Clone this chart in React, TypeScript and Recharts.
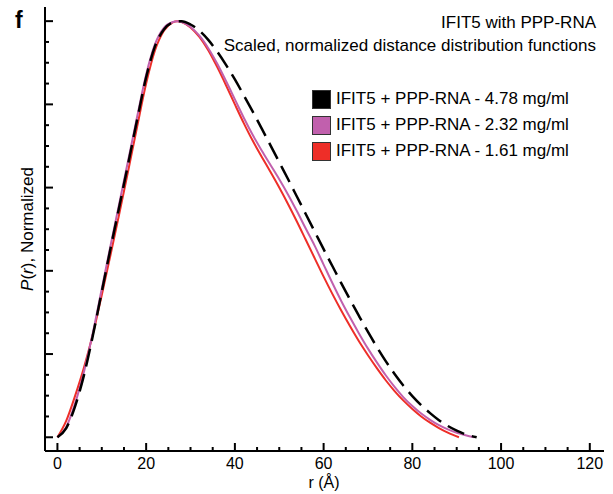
import React from 'react';
import { LineChart, Line, XAxis, YAxis, Legend } from 'recharts';

// r (Å) sampling for each concentration
const rHigh = [0, 2, 4, 6, 8, 10, 12, 14, 16, 18, 20, 22, 24, 26, 28, 30, 32, 34, 36, 38, 40, 42, 44, 46, 48, 50, 52, 54, 56, 58, 60, 62, 64, 66, 68, 70, 72, 74, 76, 78, 80, 82, 84, 86, 88, 90, 92, 94.5];
const pHigh = [0, 0.022, 0.075, 0.15, 0.245, 0.35, 0.455, 0.557, 0.66, 0.765, 0.865, 0.94, 0.98, 0.997, 1.0, 0.992, 0.977, 0.955, 0.927, 0.895, 0.86, 0.822, 0.783, 0.743, 0.702, 0.661, 0.62, 0.578, 0.536, 0.494, 0.452, 0.411, 0.37, 0.33, 0.291, 0.253, 0.217, 0.183, 0.152, 0.124, 0.099, 0.077, 0.058, 0.041, 0.027, 0.016, 0.007, 0];

const rMid = [0, 2, 4, 6, 8, 10, 12, 14, 16, 18, 20, 22, 24, 26, 27, 28, 30, 32, 34, 36, 38, 40, 42, 44, 46, 48, 50, 52, 54, 56, 58, 60, 62, 64, 66, 68, 70, 72, 74, 76, 78, 80, 82, 84, 86, 88, 90, 92, 94];
const pMid = [0, 0.025, 0.082, 0.158, 0.252, 0.357, 0.462, 0.565, 0.668, 0.772, 0.872, 0.945, 0.984, 0.998, 1.0, 0.998, 0.986, 0.965, 0.935, 0.898, 0.856, 0.812, 0.768, 0.727, 0.69, 0.655, 0.62, 0.583, 0.543, 0.501, 0.46, 0.415, 0.37, 0.327, 0.287, 0.249, 0.213, 0.18, 0.149, 0.121, 0.096, 0.075, 0.057, 0.042, 0.029, 0.019, 0.011, 0.005, 0];

const rLow = [0, 2, 4, 6, 8, 10, 12, 14, 16, 18, 20, 22, 24, 26, 27, 28, 30, 32, 34, 36, 38, 40, 42, 44, 46, 48, 50, 52, 54, 56, 58, 60, 62, 64, 66, 68, 70, 72, 74, 76, 78, 80, 82, 84, 86, 88, 90.5];
const pLow = [0, 0.04, 0.1, 0.168, 0.248, 0.342, 0.44, 0.54, 0.643, 0.748, 0.85, 0.93, 0.977, 0.997, 1.0, 0.998, 0.985, 0.962, 0.93, 0.89, 0.846, 0.8, 0.755, 0.713, 0.675, 0.638, 0.6, 0.56, 0.518, 0.474, 0.43, 0.386, 0.344, 0.304, 0.266, 0.23, 0.197, 0.166, 0.137, 0.111, 0.088, 0.068, 0.05, 0.035, 0.022, 0.011, 0];

const seriesNames = [
  'IFIT5 + PPP-RNA - 4.78 mg/ml',
  'IFIT5 + PPP-RNA - 2.32 mg/ml',
  'IFIT5 + PPP-RNA - 1.61 mg/ml',
];
const seriesColors = ['#000000', '#c160ad', '#ee2e28'];

const xTicks = Array.from({ length: 25 }, (_, i) => i * 5);
const yTicks = Array.from({ length: 21 }, (_, i) => i * 0.05);

const toRows = (rs: number[], ps: number[]) => rs.map((r, i) => ({ r, p: ps[i] }));

const FONT = '"Liberation Sans", Arial, Helvetica, sans-serif';

const XTick = (props: any) => {
  const { x, y, payload } = props;
  const v = payload.value;
  const major = v % 20 === 0;
  return (
    <g>
      <line x1={x} x2={x} y1={y} y2={y - (major ? 8 : 4)} stroke="#000" strokeWidth={2} />
      {major && (
        <text x={x} y={y + 18} textAnchor="middle" fontSize={16} fontFamily={FONT} fill="#000">
          {v}
        </text>
      )}
    </g>
  );
};

const YTick = (props: any) => {
  const { x, y, payload } = props;
  const major = Math.round(payload.value * 20) % 4 === 0;
  return <line x1={x} x2={x + (major ? 8 : 4)} y1={y} y2={y} stroke="#000" strokeWidth={2} />;
};

const LegendBox = () => (
  <div style={{ fontFamily: FONT, fontSize: 17, color: '#000' }}>
    {seriesNames.map((name, i) => (
      <div key={name} style={{ display: 'flex', alignItems: 'center', height: 26 }}>
        <span
          style={{
            width: 17,
            height: 17,
            background: seriesColors[i],
            border: '1px solid #333',
            marginRight: 5,
            display: 'inline-block',
          }}
        />
        <span>{name}</span>
      </div>
    ))}
  </div>
);

export default function App() {
  return (
    <div style={{ position: 'absolute', left: 0, top: 0, width: 613, height: 494, background: '#fff' }}>
      <LineChart width={613} height={494} margin={{ top: 7, right: 9, left: 0, bottom: 0 }}>
        <XAxis
          type="number"
          dataKey="r"
          domain={[-2.8, 123.2]}
          ticks={xTicks}
          interval={0}
          allowDataOverflow
          height={43}
          tickSize={0}
          tickMargin={0}
          tickLine={false}
          axisLine={{ stroke: '#000', strokeWidth: 2 }}
          tick={<XTick />}
        />
        <XAxis
          xAxisId="top"
          orientation="top"
          type="number"
          domain={[-2.8, 123.2]}
          height={0}
          tick={false}
          tickLine={false}
          axisLine={{ stroke: '#000', strokeWidth: 2 }}
        />
        <YAxis
          type="number"
          domain={[-0.033, 1.034]}
          ticks={yTicks}
          interval={0}
          allowDataOverflow
          width={45}
          tickSize={0}
          tickMargin={0}
          tickLine={false}
          axisLine={{ stroke: '#000', strokeWidth: 2 }}
          tick={<YTick />}
        />
        <YAxis
          yAxisId="right"
          orientation="right"
          type="number"
          domain={[-0.033, 1.034]}
          width={0}
          tick={false}
          tickLine={false}
          axisLine={{ stroke: '#000', strokeWidth: 2 }}
        />
        <Legend
          layout="vertical"
          align="center"
          verticalAlign="middle"
          content={<LegendBox />}
          wrapperStyle={{ left: 312, top: 86, width: 290, height: 80 }}
        />
        <Line
          data={toRows(rLow, pLow)}
          dataKey="p"
          name={seriesNames[2]}
          type="monotone"
          stroke={seriesColors[2]}
          strokeWidth={2}
          dot={false}
          isAnimationActive={false}
        />
        <Line
          data={toRows(rMid, pMid)}
          dataKey="p"
          name={seriesNames[1]}
          type="monotone"
          stroke={seriesColors[1]}
          strokeWidth={2}
          dot={false}
          isAnimationActive={false}
        />
        <Line
          data={toRows(rHigh, pHigh)}
          dataKey="p"
          name={seriesNames[0]}
          type="monotone"
          stroke={seriesColors[0]}
          strokeWidth={2.5}
          strokeDasharray="18 8"
          dot={false}
          isAnimationActive={false}
        />
      </LineChart>
      <svg
        width={613}
        height={494}
        style={{ position: 'absolute', left: 0, top: 0, pointerEvents: 'none' }}
        fontFamily={FONT}
      >
        <text x={15} y={28} fontSize={23} fontWeight="bold">f</text>
        <text x={596} y={28} fontSize={17} textAnchor="end">IFIT5 with PPP-RNA</text>
        <text x={596} y={51} fontSize={17} textAnchor="end">Scaled, normalized distance distribution functions</text>
        <text x={324} y={488} fontSize={16} textAnchor="middle">r (Å)</text>
        <text x={33} y={229} fontSize={17} textAnchor="middle" transform="rotate(-90 33 229)">
          <tspan fontStyle="italic">P</tspan>(<tspan fontStyle="italic">r</tspan>), Normalized
        </text>
      </svg>
    </div>
  );
}
